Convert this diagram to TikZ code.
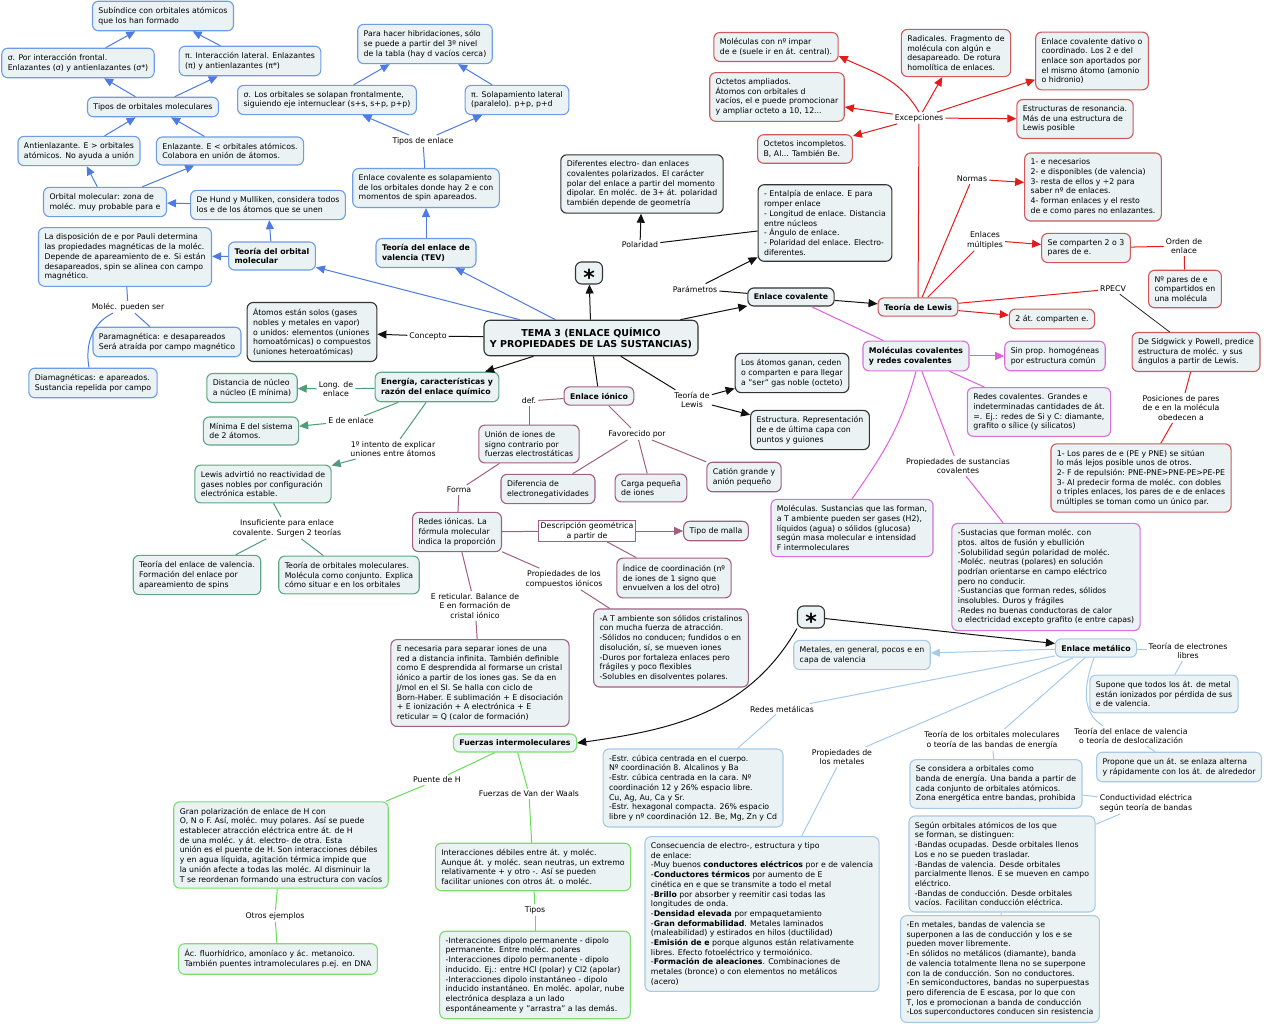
\documentclass[tikz,border=0pt]{standalone}
\usepackage{fontspec}
\setmainfont{DejaVu Sans}
\usetikzlibrary{arrows.meta,calc}
\definecolor{fillc}{HTML}{EAF2F4}
\definecolor{bluB}{HTML}{6E9CE6}\definecolor{bluL}{HTML}{4D7BE3}
\definecolor{redB}{HTML}{D0575A}\definecolor{redL}{HTML}{E31B1B}
\definecolor{blkB}{HTML}{333333}\definecolor{blkL}{HTML}{111111}
\definecolor{grnB}{HTML}{5FA883}\definecolor{grnL}{HTML}{4F9C76}
\definecolor{purB}{HTML}{A16082}\definecolor{purL}{HTML}{A06080}
\definecolor{magB}{HTML}{D86FDD}\definecolor{magL}{HTML}{E35BE3}
\definecolor{ltbB}{HTML}{A7C9E6}\definecolor{ltbL}{HTML}{A6CBEA}
\definecolor{bgB}{HTML}{7BDD6E}\definecolor{bgL}{HTML}{66DD55}
\newcommand{\myfs}{\fontsize{7.8}{9.7}\selectfont}
\newcommand{\myfsb}{\fontsize{7.8}{9.7}\selectfont\bfseries}
\tikzset{
 bx/.style={draw, rounded corners=6pt, fill=fillc, align=left, line width=1.1pt, font=\myfs, inner xsep=6pt, inner ysep=6pt},
 bxb/.style={bx, draw=bluB}, bxk/.style={bx, draw=blkB}, bxr/.style={bx, draw=redB},
 bxg/.style={bx, draw=grnB}, bxp/.style={bx, draw=purB}, bxm/.style={bx, draw=magB},
 bxl/.style={bx, draw=ltbB}, bxq/.style={bx, draw=bgB},
 lb/.style={font=\myfs, align=center, inner sep=2pt},
 lnb/.style={draw=bluL, line width=1pt}, lnk/.style={draw=blkL, line width=1pt},
 lnr/.style={draw=redL, line width=1pt}, lng/.style={draw=grnL, line width=1pt},
 lnp/.style={draw=purL, line width=1pt}, lnm/.style={draw=magL, line width=1pt},
 lnl/.style={draw=ltbL, line width=1pt}, lnq/.style={draw=bgL, line width=1pt},
 tip/.style={-{Triangle[length=9pt,width=8pt]}},
 starbox/.style={bxk, minimum width=27pt, minimum height=22pt, inner sep=0pt, font=\fontsize{22}{22}\selectfont\bfseries},
}
\begin{document}
\begin{tikzpicture}[x=1pt,y=-1pt]
\useasboundingbox (0,0) rectangle (1264,1024);
\fill[white] (0,0) rectangle (1264,1024);

% ---------- BLUE ----------
\node[bxb] (sub) at (163,16) {Subíndice con orbitales atómicos\\que los han formado};
\node[bxb] (sigf) at (78,63) {σ. Por interacción frontal.\\Enlazantes (σ) y antienlazantes (σ*)};
\node[bxb] (pil) at (250,61) {π. Interacción lateral. Enlazantes\\(π) y antienlazantes (π*)};
\node[bxb] (tom2) at (153,107) {Tipos de orbitales moleculares};
\node[bxb] (anti) at (79,151) {Antienlazante. E > orbitales\\atómicos. No ayuda a unión};
\node[bxb] (enl) at (230,151) {Enlazante. E < orbitales atómicos.\\Colabora en unión de átomos.};
\node[bxb] (om) at (105,202) {Orbital molecular: zona de\\moléc. muy probable para e};
\node[bxb] (hund) at (268,205) {De Hund y Mulliken, considera todos\\los e de los átomos que se unen};
\node[bxb] (pauli) at (125,257) {La disposición de e por Pauli determina\\las propiedades magnéticas de la moléc.\\Depende de apareamiento de e. Si están\\desapareados, spin se alinea con campo\\magnético.};
\node[bxb,font=\myfsb] (tom) at (272,256) {Teoría del orbital\\molecular};
\node[bxb] (sigs) at (327,100) {σ. Los orbitales se solapan frontalmente,\\siguiendo eje internuclear (s+s, s+p, p+p)};
\node[bxb] (hib) at (425,44) {Para hacer hibridaciones, sólo\\se puede a partir del 3º nivel\\de la tabla (hay d vacíos cerca)};
\node[bxb] (pis) at (517,100) {π. Solapamiento lateral\\(paralelo). p+p, p+d};
\node[lb] (tipenl) at (423,141) {Tipos de enlace};
\node[bxb] (ecs) at (426,188) {Enlace covalente es solapamiento\\de los orbitales donde hay 2 e con\\momentos de spin apareados.};
\node[bxb,font=\myfsb] (tev) at (426,253) {Teoría del enlace de\\valencia (TEV)};
\node[lb] (molpued) at (128,307) {Moléc. pueden ser};
\node[bxb] (para) at (167,342) {Paramagnética: e desapareados\\Será atraída por campo magnético};
\node[bxb] (dia) at (93,383) {Diamagnéticas: e apareados.\\Sustancia repelida por campo};

% ---------- BLACK ----------
\node[bxk,font=\fontsize{9.5}{11.5}\selectfont\bfseries,align=center,inner ysep=7pt] (tema) at (591,338) {TEMA 3 (ENLACE QUÍMICO\\Y PROPIEDADES DE LAS SUSTANCIAS)};
\node[starbox] (star1) at (589,273) {\smash{\raisebox{-12.5pt}{*}}};
\node[lb] (concepto) at (428,336) {Concepto};
\node[bxk] (atom) at (312,332) {Átomos están solos (gases\\nobles y metales en vapor)\\o unidos: elementos (uniones\\homoatómicas) o compuestos\\(uniones heteroatómicas)};
\node[bxk] (difel) at (642,184) {Diferentes electro- dan enlaces\\covalentes polarizados. El carácter\\polar del enlace a partir del momento\\dipolar. En moléc. de 3+ át. polaridad\\también depende de geometría};
\node[lb] (polar) at (640,245) {Polaridad};
\node[lb] (param) at (695,289) {Parámetros};
\node[bxk] (entalp) at (825,223) {- Entalpía de enlace. E para\\romper enlace\\- Longitud de enlace. Distancia\\entre núcleos\\- Ángulo de enlace.\\- Polaridad del enlace. Electro-\\diferentes.};
\node[bxk,font=\myfsb] (ecov) at (791,297) {Enlace covalente};
\node[lb] (teolew) at (692,400) {Teoría de\\Lewis};
\node[bxk] (ganan) at (792,373) {Los átomos ganan, ceden\\o comparten e para llegar\\a "ser" gas noble (octeto)};
\node[bxk] (estruct) at (810,430) {Estructura. Representación\\de e de última capa con\\puntos y guiones};

% ---------- RED ----------
\node[bxr,font=\myfsb] (lewis) at (918,307) {Teoría de Lewis};
\node[lb] (excep) at (919,118) {Excepciones};
\node[bxr] (impar) at (776,47) {Moléculas con nº impar\\de e (suele ir en át. central).};
\node[bxr] (ampl) at (777,97) {Octetos ampliados.\\Átomos con orbitales d\\vacíos, el e puede promocionar\\y ampliar octeto a 10, 12...};
\node[bxr] (incomp) at (805,149) {Octetos incompletos.\\B, Al... También Be.};
\node[bxr] (radic) at (956,53) {Radicales. Fragmento de\\molécula con algún e\\desapareado. De rotura\\homolítica de enlaces.};
\node[bxr] (dativo) at (1092,61) {Enlace covalente dativo o\\coordinado. Los 2 e del\\enlace son aportados por\\el mismo átomo (amonio\\o hidronio)};
\node[bxr] (reson) at (1075,119) {Estructuras de resonancia.\\Más de una estructura de\\Lewis posible};
\node[lb] (normas) at (972,179) {Normas};
\node[bxr] (reglas) at (1093,187) {1- e necesarios\\2- e disponibles (de valencia)\\3- resta de ellos y ÷2 para\\saber nº de enlaces.\\4- forman enlaces y el resto\\de e como pares no enlazantes.};
\node[lb] (multip) at (985,240) {Enlaces\\múltiples};
\node[bxr] (comp) at (1086,248) {Se comparten 2 o 3\\pares de e.};
\node[lb] (orden) at (1184,246) {Orden de\\enlace};
\node[bxr] (npares) at (1185,289) {Nº pares de e\\compartidos en\\una molécula};
\node[lb] (rpecv) at (1113,289) {RPECV};
\node[bxr] (sidg) at (1196,352) {De Sidgwick y Powell, predice\\estructura de moléc. y sus\\ángulos a partir de Lewis.};
\node[bxr] (dosat) at (1052,319) {2 át. comparten e.};
\node[lb] (posic) at (1181,408) {Posiciones de pares\\de e en la molécula\\obedecen a};
\node[bxr] (pares) at (1141,478) {1- Los pares de e (PE y PNE) se sitúan\\lo más lejos posible unos de otros.\\2- F de repulsión: PNE-PNE>PNE-PE>PE-PE\\3- Al predecir forma de moléc. con dobles\\o triples enlaces, los pares de e de enlaces\\múltiples se toman como un único par.};

% ---------- MAGENTA ----------
\node[bxm,font=\myfsb] (molcov) at (916,356) {Moléculas covalentes\\y redes covalentes};
\node[bxm] (sinprop) at (1055,356) {Sin prop. homogéneas\\por estructura común};
\node[bxm] (redcov) at (1039,412) {Redes covalentes. Grandes e\\indeterminadas cantidades de át.\\=. Ej.: redes de Si y C: diamante,\\grafito o sílice (y silicatos)};
\node[lb] (propcov) at (958,466) {Propiedades de sustancias\\covalentes};
\node[bxm] (sustac) at (1046,577) {-Sustacias que forman moléc. con\\ptos. altos de fusión y ebullición\\-Solubilidad según polaridad de moléc.\\-Moléc. neutras (polares) en solución\\podrían orientarse en campo eléctrico\\pero no conducir.\\-Sustancias que forman redes, sólidos\\insolubles. Duros y frágiles\\-Redes no buenas conductoras de calor\\o electricidad excepto grafito (e entre capas)};
\node[bxm] (molec) at (852,528) {Moléculas. Sustancias que las forman,\\a T ambiente pueden ser gases (H2),\\líquidos (agua) o sólidos (glucosa)\\según masa molecular e intensidad\\F intermoleculares};

% ---------- GREEN ----------
\node[bxg,font=\myfsb] (energ) at (437,387) {Energía, características y\\razón del enlace químico};
\node[lb] (longl) at (336,389) {Long. de\\enlace};
\node[bxg] (dist) at (252,388) {Distancia de núcleo\\a núcleo (E mínima)};
\node[lb] (eenl) at (351,421) {E de enlace};
\node[bxg] (minim) at (251,431) {Mínima E del sistema\\de 2 átomos.};
\node[lb] (intento) at (393,449) {1º intento de explicar\\uniones entre átomos};
\node[bxg] (lewadv) at (263,484) {Lewis advirtió no reactividad de\\gases nobles por configuración\\electrónica estable.};
\node[lb] (insuf) at (287,528) {Insuficiente para enlace\\covalente. Surgen 2 teorías};
\node[bxg] (tevg) at (197,575) {Teoría del enlace de valencia.\\Formación del enlace por\\apareamiento de spins};
\node[bxg] (tomg) at (349,575) {Teoría de orbitales moleculares.\\Molécula como conjunto. Explica\\cómo situar e en los orbitales};

% ---------- PURPLE ----------
\node[bxp,font=\myfsb] (ionic) at (599,396) {Enlace iónico};
\node[lb] (deflbl) at (529,401) {def.};
\node[bxp] (union) at (529,444) {Unión de iones de\\signo contrario por\\fuerzas electrostáticas};
\node[lb] (favor) at (637,434) {Favorecido por};
\node[bxp] (difer) at (548,489) {Diferencia de\\electronegatividades};
\node[bxp] (carga) at (651,488) {Carga pequeña\\de iones};
\node[bxp] (cation) at (744,477) {Catión grande y\\anión pequeño};
\node[lb] (forma) at (459,490) {Forma};
\node[bxp] (redion) at (457,532) {Redes iónicas. La\\fórmula molecular\\indica la proporción};
\node[draw=purB, fill=white, line width=1pt, font=\myfs, align=center, inner xsep=2pt, inner ysep=1.5pt] (descr) at (587,531) {Descripción geométrica\\a partir de};
\node[bxp] (malla) at (716,531) {Tipo de malla};
\node[bxp] (indice) at (674,578) {Índice de coordinación (nº\\de iones de 1 signo que\\envuelven a los del otro)};
\node[lb] (propion) at (564,579) {Propiedades de los\\compuestos iónicos};
\node[lb] (eret) at (475,606) {E reticular. Balance de\\E en formación de\\cristal iónico};
\node[bxp] (ambien) at (671,648) {-A T ambiente son sólidos cristalinos\\con mucha fuerza de atracción.\\-Sólidos no conducen; fundidos o en\\disolución, sí, se mueven iones\\-Duros por fortaleza enlaces pero\\frágiles y poco flexibles\\-Solubles en disolventes polares.};
\node[bxp] (enec) at (480,683) {E necesaria para separar iones de una\\red a distancia infinita. También definible\\como E desprendida al formarse un cristal\\iónico a partir de los iones gas. Se da en\\J/mol en el SI. Se halla con ciclo de\\Born-Haber. E sublimación + E disociación\\+ E ionización + A electrónica + E\\reticular = Q (calor de formación)};

% ---------- METAL ----------
\node[starbox] (star2) at (811,617) {\smash{\raisebox{-12.5pt}{*}}};
\node[bxl,font=\myfsb] (metal) at (1096,648) {Enlace metálico};
\node[bxl] (metgen) at (862,655) {Metales, en general, pocos e en\\capa de valencia};
\node[lb] (redmet) at (782,709) {Redes metálicas};
\node[bxl] (estr) at (693,788) {-Estr. cúbica centrada en el cuerpo.\\Nº coordinación 8. Alcalinos y Ba\\-Estr. cúbica centrada en la cara. Nº\\coordinación 12 y 26\% espacio libre.\\Cu, Ag, Au, Ca y Sr.\\-Estr. hexagonal compacta. 26\% espacio\\libre y nº coordinación 12. Be, Mg, Zn y Cd};
\node[lb] (propmet) at (842,757) {Propiedades de\\los metales};
\node[bxl] (consec) at (762,914) {Consecuencia de electro-, estructura y tipo\\de enlace:\\-Muy buenos \textbf{conductores eléctricos} por e de valencia\\-\textbf{Conductores térmicos} por aumento de E\\cinética en e que se transmite a todo el metal\\-\textbf{Brillo} por absorber y reemitir casi todas las\\longitudes de onda.\\-\textbf{Densidad elevada} por empaquetamiento\\-\textbf{Gran deformabilidad}. Metales laminados\\(maleabilidad) y estirados en hilos (ductilidad)\\-\textbf{Emisión de e} porque algunos están relativamente\\libres. Efecto fotoeléctrico y termoiónico.\\-\textbf{Formación de aleaciones}. Combinaciones de\\metales (bronce) o con elementos no metálicos\\(acero)};
\node[lb] (teoorb) at (992,740) {Teoría de los orbitales moleculares\\o teoría de las bandas de energía};
\node[bxl] (secons) at (996,784) {Se considera a orbitales como\\banda de energía. Una banda a partir de\\cada conjunto de orbitales atómicos.\\Zona energética entre bandas, prohibida};
\node[lb] (conduc) at (1146,803) {Conductividad eléctrica\\según teoría de bandas};
\node[bxl] (segun) at (1002,864) {Según orbitales atómicos de los que\\se forman, se distinguen:\\-Bandas ocupadas. Desde orbitales llenos\\Los e no se pueden trasladar.\\-Bandas de valencia. Desde orbitales\\parcialmente llenos. E se mueven en campo\\eléctrico.\\-Bandas de conducción. Desde orbitales\\vacíos. Facilitan conducción eléctrica.};
\node[bxl] (enmet) at (1000,969) {-En metales, bandas de valencia se\\superponen a las de conducción y los e se\\pueden mover libremente.\\-En sólidos no metálicos (diamante), banda\\de valencia totalmente llena no se superpone\\con la de conducción. Son no conductores.\\-En semiconductores, bandas no superpuestas\\pero diferencia de E escasa, por lo que con\\T, los e promocionan a banda de conducción\\-Los superconductores conducen sin resistencia};
\node[lb] (teoval) at (1131,736) {Teoría del enlace de valencia\\o teoría de deslocalización};
\node[bxl] (propone) at (1179,767) {Propone que un át. se enlaza alterna\\y rápidamente con los át. de alrededor};
\node[lb] (teolib) at (1188,651) {Teoría de electrones\\libres};
\node[bxl] (supone) at (1164,694) {Supone que todos los át. de metal\\están ionizados por pérdida de sus\\e de valencia.};

% ---------- BRIGHT GREEN ----------
\node[bxq,font=\myfsb] (fuerz) at (515,743) {Fuerzas intermoleculares};
\node[lb] (puente) at (437,780) {Puente de H};
\node[bxq] (gran) at (281,845) {Gran polarización de enlace de H con\\O, N o F. Así, moléc. muy polares. Así se puede\\establecer atracción eléctrica entre át. de H\\de una moléc. y át. electro- de otra. Esta\\unión es el puente de H. Son interacciones débiles\\y en agua líquida, agitación térmica impide que\\la unión afecte a todas las moléc. Al disminuir la\\T se reordenan formando una estructura con vacíos};
\node[lb] (otros) at (275,916) {Otros ejemplos};
\node[bxq] (acfl) at (278,959) {Ác. fluorhídrico, amoníaco y ác. metanoico.\\También puentes intramoleculares p.ej. en DNA};
\node[lb] (vdw) at (529,794) {Fuerzas de Van der Waals};
\node[bxq] (inter) at (533,867) {Interacciones débiles entre át. y moléc.\\Aunque át. y moléc. sean neutras, un extremo\\relativamente + y otro -. Así se pueden\\facilitar uniones con otros át. o moléc.};
\node[lb] (tipos) at (535,910) {Tipos};
\node[bxq] (dipolo) at (535,975) {-Interacciones dipolo permanente - dipolo\\permanente. Entre moléc. polares\\-Interacciones dipolo permanente - dipolo\\inducido. Ej.: entre HCl (polar) y Cl2 (apolar)\\-Interacciones dipolo instantáneo - dipolo\\inducido instantáneo. En moléc. apolar, nube\\electrónica desplaza a un lado\\espontáneamente y "arrastra" a las demás.};

% ================= CONNECTORS =================
% blue
\draw[lnb,tip] (tema) -- (tom);
\draw[lnb,tip] (tema) -- (tev);
\draw[lnb,tip] (tom) -- (hund);
\draw[lnb,tip] (tom) -- (pauli);
\draw[lnb,tip] (hund) -- (om);
\draw[lnb,tip] (om) -- (anti);
\draw[lnb,tip] (om) -- (enl);
\draw[lnb,tip] (anti) -- (tom2);
\draw[lnb,tip] (enl) -- (tom2);
\draw[lnb,tip] (tom2) -- (sigf);
\draw[lnb,tip] (tom2) -- (pil);
\draw[lnb,tip] (sigf) -- (sub);
\draw[lnb,tip] (pil) -- (sub);
\draw[lnb] (pauli) -- (molpued);
\draw[lnb] (molpued) -- (para);
\draw[lnb] ($(molpued.south)+(-15,0)$) to[out=205,in=100] ($(dia.north)+(-4,0)$);
\draw[lnb,tip] (tev) -- (ecs);
\draw[lnb] (ecs) -- (tipenl);
\draw[lnb,tip] (tipenl) -- (sigs);
\draw[lnb,tip] (tipenl) -- (pis);
\draw[lnb,tip] (sigs) -- (hib);
\draw[lnb,tip] (pis) -- (hib);
% black
\draw[lnk,tip] (tema) -- (star1);
\draw[lnk] (tema) -- (concepto);
\draw[lnk,tip] (concepto) -- (atom);
\draw[lnk,tip] (tema) -- (energ);
\draw[lnk] (tema) -- (ionic);
\draw[lnk] (tema) -- (teolew);
\draw[lnk,tip] (teolew) -- (ganan);
\draw[lnk,tip] (teolew) -- (estruct);
\draw[lnk,tip] (tema) -- (ecov);
\draw[lnk] (ecov) -- (param);
\draw[lnk,tip] (param) -- (entalp);
\draw[lnk] (entalp) -- (polar);
\draw[lnk,tip] (polar) -- (difel);
\draw[lnk,tip] (ecov) -- (lewis);
\draw[lnm] (ecov) -- (molcov);
% red
\draw[lnr] (lewis) -- (excep);
\draw[lnr,tip] (excep.north) to[out=120,in=-25] ($(impar.east)+(0,9)$);
\draw[lnr,tip] (excep) -- (ampl);
\draw[lnr,tip] (excep) -- (incomp);
\draw[lnr,tip] (excep) -- (radic);
\draw[lnr,tip] (excep) -- (dativo);
\draw[lnr,tip] (excep) -- (reson);
\draw[lnr] (lewis) -- (normas);
\draw[lnr,tip] (normas) -- (reglas);
\draw[lnr] (lewis) -- (multip);
\draw[lnr,tip] (multip) -- (comp);
\draw[lnr] (comp) -- (orden);
\draw[lnr] (orden) -- (npares);
\draw[lnr] (lewis) -- (rpecv);
\draw[draw=blkL, line width=0.7pt] (rpecv) -- (sidg);
\draw[lnr,tip] (lewis) -- (dosat);
\draw[lnr] (sidg) -- (posic);
\draw[lnr] (posic) -- (pares);
% magenta
\draw[lnm,tip] (molcov) -- (sinprop);
\draw[lnm] (molcov) -- (redcov);
\draw[lnm] (molcov) -- (propcov);
\draw[lnm] (propcov) -- (sustac);
\draw[lnm] (molcov.south) to[out=-105,in=55] (molec.north);
% green
\draw[lng] (energ) -- (longl);
\draw[lng,tip] (longl) -- (dist);
\draw[lng] (energ) -- (eenl);
\draw[lng,tip] (eenl) -- (minim);
\draw[lng] (energ) -- (intento);
\draw[lng,tip] (intento) -- (lewadv);
\draw[lng] (lewadv) -- (insuf);
\draw[lng] (insuf) -- (tevg);
\draw[lng] (insuf) -- (tomg);
% purple
\draw[lnp] (ionic) -- (deflbl);
\draw[lnp] (deflbl) -- (union);
\draw[lnp] (ionic) -- (favor);
\draw[lnp] (favor) -- (difer);
\draw[lnp] (favor) -- (carga);
\draw[lnp] (favor) -- (cation);
\draw[lnp] (union) -- (forma);
\draw[lnp] (forma) -- (redion);
\draw[lnp] (redion) -- (descr);
\draw[lnp,tip] (descr) -- (malla);
\draw[lnp] (descr) -- (indice);
\draw[lnp] (redion) -- (propion);
\draw[lnp] (propion) -- (ambien);
\draw[lnp] (redion) -- (eret);
\draw[lnp] (eret) -- (enec);
% metal
\draw[lnk,tip] (star2.south west) to[out=-120,in=8] (fuerz.east);
\draw[lnk,tip] (star2) -- (metal);
\draw[lnl,tip] (metal) -- (metgen);
\draw[lnl] (metal) -- (redmet);
\draw[lnl] (redmet) -- (estr);
\draw[lnl] (metal) -- (propmet);
\draw[lnl] (propmet) -- (consec);
\draw[lnl] (metal) -- (teoorb);
\draw[lnl] (teoorb) -- (secons);
\draw[lnl] ($(metal.south)+(-2,0)$) to[out=-110,in=150] ($(teoval.north)+(-28,0)$);
\draw[lnl] (teoval) -- (propone);
\draw[lnl] (metal) -- (teolib);
\draw[lnl] (teolib) -- (supone);
\draw[lnl] (secons) -- (conduc);
\draw[lnl] (conduc) -- (segun);
\draw[lnl] (segun) -- (enmet);
% bright green
\draw[lnq] (fuerz) -- (puente);
\draw[lnq] (puente) -- (gran);
\draw[lnq] (fuerz) -- (vdw);
\draw[lnq] (vdw) -- (inter);
\draw[lnq] (inter) -- (tipos);
\draw[lnq] (tipos) -- (dipolo);
\draw[lnq] (gran) -- (otros);
\draw[lnq] (otros) -- (acfl);
\end{tikzpicture}
\end{document}
